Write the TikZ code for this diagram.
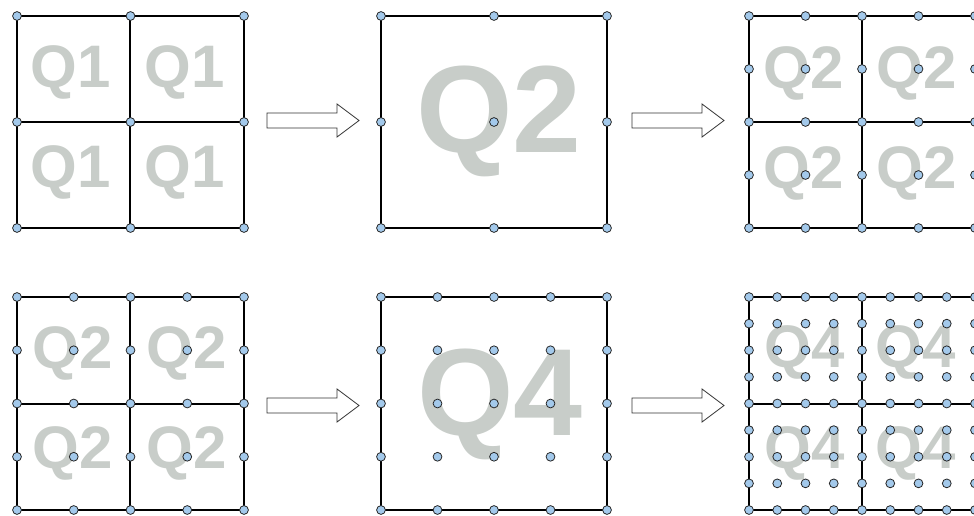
\documentclass[tikz,border=0pt]{standalone}
\usepackage{fontspec}
\setmainfont{Liberation Sans}
\definecolor{dotblue}{RGB}{163,201,235}
\definecolor{qgray}{RGB}{200,205,201}
\begin{document}
\begin{tikzpicture}[x=1pt,y=-1pt,
  frame/.style={line width=1.9pt,line join=round},
  gridpt/.style={fill=dotblue,draw=black!85,line width=0.8pt},
  smallq/.style={text=qgray,inner sep=0pt,font=\bfseries\fontsize{60}{60}\selectfont},
  bigq/.style={text=qgray,inner sep=0pt,font=\bfseries\fontsize{124}{124}\selectfont},
  blockarrow/.style={draw=black!80,fill=white,line width=0.8pt}]
\clip (0,0) rectangle (974,516);
% labels
\foreach \x/\y [count=\n] in {71/72,185/72,71/172,185/172}
  \node[smallq] (qa\n) at (\x,\y) {Q1};
\node[bigq] (qb) at (499,121) {Q2};
\foreach \x/\y [count=\n] in {804/73,917/73,804/173,917/173}
  \node[smallq] (qc\n) at (\x,\y) {Q2};
\foreach \x/\y [count=\n] in {73/353,187/353,73/453,187/453}
  \node[smallq] (qd\n) at (\x,\y) {Q2};
\node[bigq] (qe) at (500,404) {Q4};
\foreach \x/\y [count=\n] in {805/352,916/352,805/453,916/453}
  \node[smallq] (qf\n) at (\x,\y) {Q4};
% frames
\draw[frame] (17,16) rectangle (244,228) (130,16) -- (130,228) (17,122) -- (244,122);
\draw[frame] (381,16) rectangle (607,228);
\draw[frame] (749,16) rectangle (975,228) (862,16) -- (862,228) (749,122) -- (975,122);
\draw[frame] (17,297) rectangle (244,510) (130,297) -- (130,510) (17,404) -- (244,404);
\draw[frame] (381,297) rectangle (607,510);
\draw[frame] (749,297) rectangle (975,510) (862,297) -- (862,510) (749,404) -- (975,404);
% arrows
\foreach \dx/\dy in {0/0,365/0,0/285,365/285}
  \draw[blockarrow,shift={(\dx,\dy)}] (267,113) -- (337,113) -- (337,104) -- (359,120.5)
    -- (337,137) -- (337,128) -- (267,128) -- cycle;
% points
\foreach \i in {0,1,2} \foreach \j in {0,1,2} {
  \draw[gridpt] ({17+\i*113.5},{16+\j*106}) circle (4.4pt);
  \draw[gridpt] ({381+\i*113},{16+\j*106}) circle (4.4pt);
}
\foreach \i in {0,...,4} \foreach \j in {0,...,4} {
  \draw[gridpt] ({749+\i*56.5},{16+\j*53}) circle (4.4pt);
  \draw[gridpt] ({17+\i*56.75},{297+\j*53.25}) circle (4.4pt);
  \draw[gridpt] ({381+\i*56.5},{297+\j*53.25}) circle (4.4pt);
}
\foreach \i in {0,...,8} \foreach \j in {0,...,8}
  \draw[gridpt] ({749+\i*28.25},{297+\j*26.625}) circle (4.4pt);
\end{tikzpicture}
\end{document}
